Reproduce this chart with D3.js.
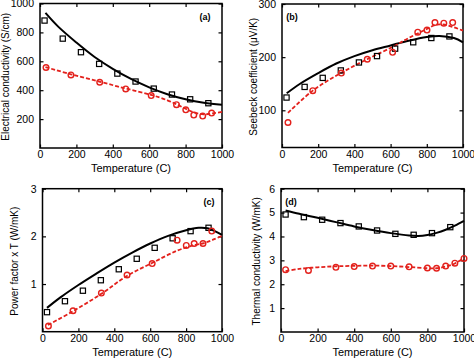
<!DOCTYPE html>
<html>
<head>
<meta charset="utf-8">
<script src="https://cdn.jsdelivr.net/npm/d3@7"></script>
<style>
  body { margin: 0; background: #fff; }
  svg { display: block; font-family: "Liberation Sans", Arial, sans-serif; }
</style>
</head>
<body>
<svg id="chart" width="474" height="364"></svg>
<script>
// shared x ticks
const tempTicks = [0, 200, 400, 600, 800, 1000]

// measured temperatures (black squares / red circles)
const sqTemp = [25, 125, 225, 325, 425, 525, 625, 725, 825, 925]
const cirTemp = [33, 170, 328, 471, 611, 750, 801, 845, 894, 943]

// (a) electrical conductivity
const aSq = [882, 757, 663, 582, 515, 460, 411, 370, 337, 310]
const aCir = [557, 506, 455, 409, 363, 300, 264, 228, 221, 242]
const aBlackT = [30, 100, 200, 300, 400, 500, 600, 700, 800, 900, 1000]
const aBlack = [935, 840, 730, 630, 548, 478, 420, 372, 337, 313, 300]
const aRedT = [30, 170, 330, 470, 610, 700, 750, 800, 850, 900, 950, 1000]
const aRed = [560, 510, 458, 412, 368, 330, 303, 272, 245, 233, 240, 250]

// (b) seebeck coefficient
const bSq = [124, 144, 161, 175, 190, 202, 216, 228, 236, 239]
const bCir = [77, 137, 170, 196, 209, 247, 251, 265, 264, 265]
const bBlackT = [26, 100, 200, 300, 400, 500, 600, 700, 800, 870, 950, 1000]
const bBlack = [132, 150, 170, 188, 202, 213, 222, 231, 238, 240, 236, 228]
const bRedT = [33, 170, 325, 470, 615, 700, 800, 850, 900, 950, 1000]
const bRed = [95, 137, 170, 196, 220, 236, 253, 261, 261, 256, 250]

// (c) power factor x T
const cSq = [0.41, 0.64, 0.86, 1.08, 1.31, 1.53, 1.76, 1.96, 2.11, 2.18]
const cCir = [0.12, 0.44, 0.81, 1.19, 1.43, 1.92, 1.81, 1.85, 1.85, 2.11]
const cBlackT = [25, 100, 200, 300, 400, 500, 600, 700, 800, 870, 920, 960, 1000]
const cBlack = [0.5, 0.72, 0.98, 1.22, 1.45, 1.66, 1.85, 2.01, 2.13, 2.18, 2.17, 2.11, 2.03]
const cRedT = [30, 170, 330, 470, 610, 750, 850, 900, 950, 1000]
const cRed = [0.14, 0.43, 0.8, 1.17, 1.44, 1.7, 1.82, 1.86, 1.93, 2.01]

// (d) thermal conductivity
const dCirTemp = [25, 150, 300, 400, 500, 600, 700, 800, 850, 900, 950, 1000]
const dSq = [4.92, 4.81, 4.7, 4.56, 4.42, 4.25, 4.11, 4.07, 4.14, 4.39]
const dCir = [2.61, 2.58, 2.71, 2.74, 2.76, 2.76, 2.73, 2.68, 2.67, 2.76, 2.88, 3.08]
const dBlackT = [25, 100, 200, 300, 400, 500, 600, 700, 750, 800, 850, 900, 950, 1000]
const dBlack = [5.09, 4.95, 4.78, 4.6, 4.42, 4.27, 4.14, 4.04, 4.02, 4.06, 4.15, 4.28, 4.45, 4.65]
const dRedT = [25, 100, 200, 300, 400, 500, 600, 700, 800, 850, 900, 950, 1000]
const dRed = [2.55, 2.64, 2.71, 2.75, 2.77, 2.78, 2.76, 2.72, 2.67, 2.67, 2.74, 2.87, 3.1]

const RED = '#e3211c'
const svg = d3.select('#chart')
const plain = (d) => String(d)

const zip = (xs, ys) => xs.map((x, i) => [x, ys[i]])

function panel(p) {
  const x = d3.scaleLinear().domain([0, 1000]).range([p.left, p.right])
  const y = d3.scaleLinear().domain(p.yDomain).range([p.bottom, p.top])
  const g = svg.append('g')

  const tick = (axis) => axis.tickSizeInner(-3.5).tickSizeOuter(0)
  g.append('g')
    .attr('transform', `translate(0,${p.bottom})`)
    .call(tick(d3.axisBottom(x).tickValues(tempTicks)).tickFormat(plain).tickPadding(3))
  g.append('g')
    .attr('transform', `translate(0,${p.top})`)
    .call(tick(d3.axisTop(x).tickValues(tempTicks)).tickFormat(''))
  g.append('g')
    .attr('transform', `translate(${p.left},0)`)
    .call(tick(d3.axisLeft(y).tickValues(p.yTicks)).tickFormat(plain).tickPadding(6))
  g.append('g')
    .attr('transform', `translate(${p.right},0)`)
    .call(tick(d3.axisRight(y).tickValues(p.yTicks)).tickFormat(''))

  g.selectAll('.domain').remove()
  g.selectAll('.tick line').attr('stroke', '#000').attr('stroke-width', 1.2)
  g.selectAll('.tick text')
    .attr('fill', '#000')
    .style('font-size', '10.5px')

  g.append('rect')
    .attr('x', p.left).attr('y', p.top)
    .attr('width', p.right - p.left).attr('height', p.bottom - p.top)
    .attr('fill', 'none').attr('stroke', '#000').attr('stroke-width', 1.5)

  const line = d3.line().x((d) => x(d[0])).y((d) => y(d[1])).curve(d3.curveCatmullRom)

  g.append('path')
    .datum(zip(p.blackT, p.black))
    .attr('d', line)
    .attr('fill', 'none').attr('stroke', '#000').attr('stroke-width', 2)

  g.append('path')
    .datum(zip(p.redT, p.red))
    .attr('d', line)
    .attr('fill', 'none').attr('stroke', RED).attr('stroke-width', 1.8)
    .attr('stroke-dasharray', '4,2')

  g.selectAll('rect.sq')
    .data(zip(sqTemp, p.sq))
    .enter()
    .append('rect')
    .attr('class', 'sq')
    .attr('x', (d) => x(d[0]) - 2.6)
    .attr('y', (d) => y(d[1]) - 2.6)
    .attr('width', 5.2).attr('height', 5.2)
    .attr('fill', 'none').attr('stroke', '#000').attr('stroke-width', 1.2)

  g.selectAll('circle.cir')
    .data(zip(p.cirT, p.cir))
    .enter()
    .append('circle')
    .attr('class', 'cir')
    .attr('cx', (d) => x(d[0]))
    .attr('cy', (d) => y(d[1]))
    .attr('r', 2.8)
    .attr('fill', 'none').attr('stroke', RED).attr('stroke-width', 1.4)

  g.append('text')
    .attr('x', (p.left + p.right) / 2)
    .attr('y', p.bottom + 24)
    .attr('text-anchor', 'middle')
    .style('font-size', '11px')
    .text('Temperature (C)')

  g.append('text')
    .attr('transform', `translate(${p.yLabelX},${(p.top + p.bottom) / 2 + 1}) rotate(-90)`)
    .attr('text-anchor', 'middle')
    .style('font-size', '10px')
    .text(p.yLabel)

  g.append('text')
    .attr('x', p.tagX).attr('y', p.top + 16)
    .attr('text-anchor', 'middle')
    .style('font-size', '9px')
    .style('font-weight', 'bold')
    .text(p.tag)
}

panel({
  left: 40, right: 222, top: 3.5, bottom: 148,
  yDomain: [0, 1000], yTicks: [200, 400, 600, 800, 1000],
  sq: aSq, cirT: cirTemp, cir: aCir,
  blackT: aBlackT, black: aBlack, redT: aRedT, red: aRed,
  yLabel: 'Electrical conductivity (S/cm)', yLabelX: 9,
  tag: '(a)', tagX: 205
})

panel({
  left: 282, right: 463, top: 4, bottom: 147.5,
  yDomain: [30, 300], yTicks: [100, 200, 300],
  sq: bSq, cirT: cirTemp, cir: bCir,
  blackT: bBlackT, black: bBlack, redT: bRedT, red: bRed,
  yLabel: 'Seebeck coefficient (\u03bcV/K)', yLabelX: 257,
  tag: '(b)', tagX: 292
})

panel({
  left: 42.5, right: 222, top: 188.7, bottom: 331.7,
  yDomain: [0, 3], yTicks: [1, 2, 3],
  sq: cSq, cirT: cirTemp, cir: cCir,
  blackT: cBlackT, black: cBlack, redT: cRedT, red: cRed,
  yLabel: 'Power factor x T (W/mK)', yLabelX: 18,
  tag: '(c)', tagX: 209
})

panel({
  left: 281, right: 464, top: 188.7, bottom: 332,
  yDomain: [0, 6], yTicks: [1, 2, 3, 4, 5, 6],
  sq: dSq, cirT: dCirTemp, cir: dCir,
  blackT: dBlackT, black: dBlack, redT: dRedT, red: dRed,
  yLabel: 'Thermal conductivity (W/mK)', yLabelX: 260,
  tag: '(d)', tagX: 291
})
</script>
</body>
</html>
